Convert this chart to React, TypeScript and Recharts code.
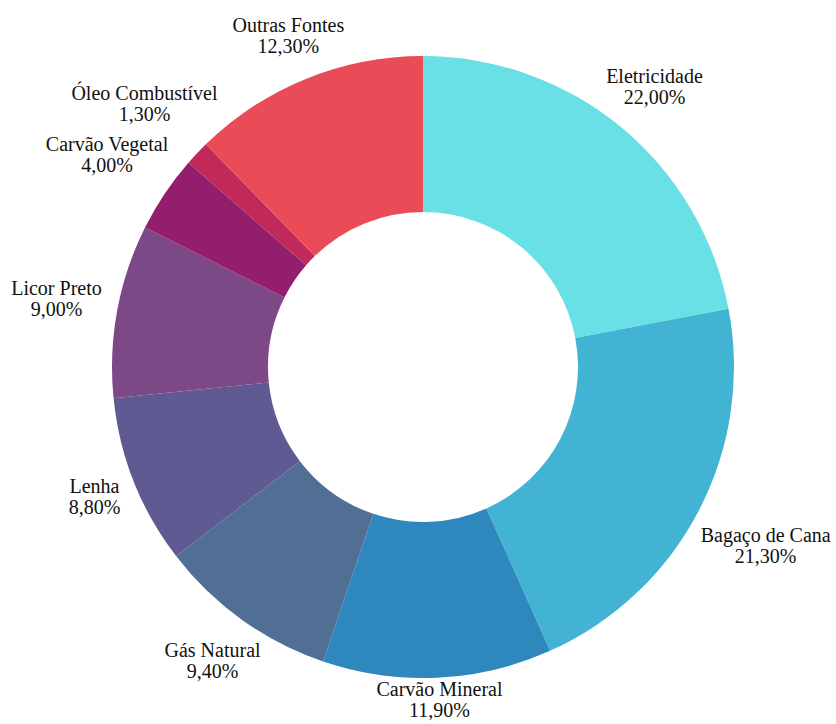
import { Cell, Pie, PieChart } from "recharts";

const CATEGORIES = [
  "Eletricidade",
  "Bagaço de Cana",
  "Carvão Mineral",
  "Gás Natural",
  "Lenha",
  "Licor Preto",
  "Carvão Vegetal",
  "Óleo Combustível",
  "Outras Fontes",
];

const SHARES = [22.0, 21.3, 11.9, 9.4, 8.8, 9.0, 4.0, 1.3, 12.3];

const COLORS = [
  "#69e0e6",
  "#42b3d2",
  "#2e88bd",
  "#516e94",
  "#5f5a91",
  "#7d4886",
  "#931e6d",
  "#c0295a",
  "#ea4c57",
];

const WIDTH = 836;
const HEIGHT = 724;
const FONT = '20px "Liberation Serif", "Times New Roman", serif';
const RADIAN = Math.PI / 180;

const data = CATEGORIES.map((name, i) => ({ name, value: SHARES[i] }));

let ctx: CanvasRenderingContext2D | null = null;
function textWidth(s: string) {
  if (!ctx) ctx = document.createElement("canvas").getContext("2d");
  if (!ctx) return s.length * 9;
  ctx.font = FONT;
  return ctx.measureText(s).width;
}

const fmt = (v: number) => v.toFixed(2).replace(".", ",") + "%";

function renderLabel(props: any) {
  const { cx, cy, midAngle, outerRadius, name, value } = props;
  const pct = fmt(value);
  const w = Math.max(textWidth(name), textWidth(pct));
  const h = 44;
  const cos = Math.cos(-midAngle * RADIAN);
  const sin = Math.sin(-midAngle * RADIAN);
  // push the label box out along the slice's mid angle
  const ext = Math.sqrt((w / 2 * cos) ** 2 + (h / 2 * sin) ** 2);
  const r = outerRadius + 17 + ext;
  const x = cx + r * cos;
  let y = cy + r * sin;
  y = Math.min(y, HEIGHT - 24);
  return (
    <text x={x} y={y} textAnchor="middle" fill="#111" style={{ font: FONT }}>
      <tspan x={x} y={y - 4}>
        {name}
      </tspan>
      <tspan x={x} y={y + 17}>
        {pct}
      </tspan>
    </text>
  );
}

export default function App() {
  return (
    <div style={{ position: "fixed", left: 0, top: 0, width: WIDTH, height: HEIGHT, background: "#fff" }}>
      <PieChart width={WIDTH} height={HEIGHT} margin={{ top: 0, right: 0, bottom: 0, left: 0 }}>
        <Pie
          data={data}
          dataKey="value"
          nameKey="name"
          cx={423}
          cy={367}
          innerRadius={155}
          outerRadius={311}
          startAngle={90}
          endAngle={-270}
          stroke="none"
          label={renderLabel}
          labelLine={false}
          isAnimationActive={false}
        >
          {data.map((entry, i) => (
            <Cell key={entry.name} fill={COLORS[i]} />
          ))}
        </Pie>
      </PieChart>
    </div>
  );
}
